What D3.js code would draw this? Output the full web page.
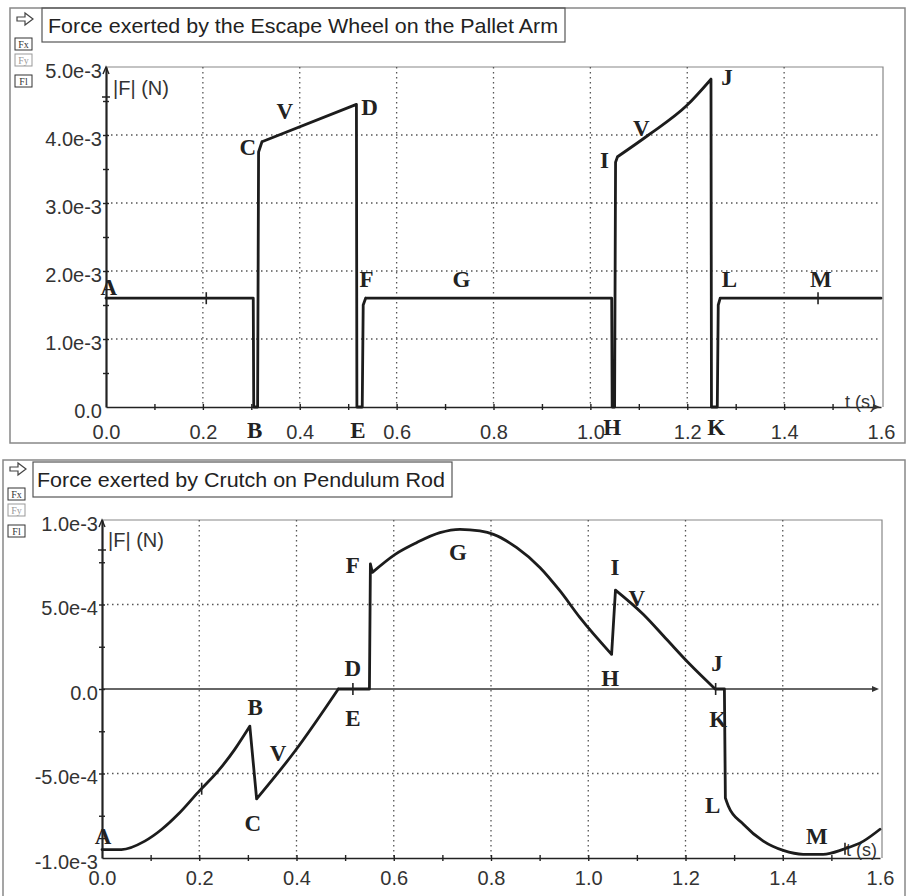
<!DOCTYPE html>
<html>
<head>
<meta charset="utf-8">
<script src="https://cdn.jsdelivr.net/npm/d3@7/dist/d3.min.js"></script>
<style>
  body { margin: 0; background: #fff; }
  .title { font-family: 'Liberation Sans', Arial, sans-serif; font-size: 21px; fill: #222; }
  .tick-label { font-family: 'Liberation Sans', Arial, sans-serif; font-size: 20px; fill: #333; }
  .axis-name { font-family: 'Liberation Sans', Arial, sans-serif; font-size: 20px; fill: #333; }
  .pt-label { font-family: 'Liberation Serif', 'Times New Roman', serif; font-weight: bold; font-size: 23px; fill: #222; }
  .icon-text { font-family: 'Liberation Serif', serif; font-size: 10px; fill: #333; }
</style>
</head>
<body>
<svg id="chart" width="911" height="896"></svg>
<script>
// shared time axis
const xTicks = [0, 0.2, 0.4, 0.6, 0.8, 1.0, 1.2, 1.4, 1.6];
const xTickLabels = ['0.0', '0.2', '0.4', '0.6', '0.8', '1.0', '1.2', '1.4', '1.6'];
const xMinorTicks = [0.1, 0.2, 0.3, 0.4, 0.5, 0.6, 0.7, 0.8, 0.9, 1.0, 1.1, 1.2, 1.3, 1.4, 1.5];

// escape wheel on pallet arm
const wheelTitle = 'Force exerted by the Escape Wheel on the Pallet Arm';
const wheelTimes = [0, 0.304, 0.305, 0.313, 0.315, 0.322, 0.517, 0.518, 0.529, 0.531, 0.536,
  1.044, 1.045, 1.05, 1.052, 1.056, 1.12, 1.2, 1.249, 1.25, 1.262, 1.264, 1.268, 1.6];
const wheelForces = [1.6e-3, 1.6e-3, 0, 0, 3.75e-3, 3.9e-3, 4.45e-3, 0, 0, 1.5e-3, 1.6e-3,
  1.6e-3, 0, 0, 3.6e-3, 3.68e-3, 4.0e-3, 4.44e-3, 4.82e-3, 0, 0, 1.5e-3, 1.6e-3, 1.6e-3];
// times where the trace has a sharp corner (not smoothed through)
const wheelCorners = [0.304, 0.305, 0.313, 0.315, 0.322, 0.517, 0.518, 0.529, 0.531, 0.536,
  1.044, 1.045, 1.05, 1.052, 1.056, 1.249, 1.25, 1.262, 1.264, 1.268];
const wheelYTicks = [0, 1e-3, 2e-3, 3e-3, 4e-3, 5e-3];
const wheelYTickLabels = ['0.0', '1.0e-3', '2.0e-3', '3.0e-3', '4.0e-3', '5.0e-3'];
const wheelYMinor = [0.5e-3, 1e-3, 1.5e-3, 2e-3, 2.5e-3, 3e-3, 3.5e-3, 4e-3, 4.5e-3];
const wheelLabels = [
  ['A', 0.006, 1.76e-3], ['B', 0.307, -0.34e-3], ['C', 0.293, 3.82e-3], ['V', 0.369, 4.34e-3],
  ['D', 0.544, 4.41e-3], ['E', 0.52, -0.34e-3], ['F', 0.538, 1.87e-3], ['G', 0.734, 1.87e-3],
  ['H', 1.045, -0.3e-3], ['I', 1.029, 3.63e-3], ['V', 1.105, 4.1e-3], ['J', 1.282, 4.84e-3],
  ['K', 1.26, -0.3e-3], ['L', 1.287, 1.87e-3], ['M', 1.476, 1.87e-3]
];
const wheelMarks = [[0.207, 1.6e-3], [1.47, 1.6e-3]];

// crutch on pendulum rod
const crutchTitle = 'Force exerted by Crutch on Pendulum Rod';
const crutchTimes = [0, 0.04, 0.088, 0.123, 0.157, 0.198, 0.239, 0.273, 0.304, 0.318, 0.397,
  0.486, 0.55, 0.552, 0.556, 0.603, 0.647, 0.695, 0.736, 0.777, 0.805, 0.853, 0.901, 0.942,
  0.983, 1.048, 1.056, 1.113, 1.161, 1.209, 1.261, 1.28, 1.282, 1.288, 1.319, 1.36, 1.401,
  1.442, 1.483, 1.524, 1.566, 1.6];
const crutchForces = [-9.5e-4, -9.5e-4, -9.0e-4, -8.3e-4, -7.4e-4, -6.1e-4, -4.85e-4, -3.57e-4,
  -2.2e-4, -6.5e-4, -3.67e-4, 0, 0, 7.4e-4, 6.9e-4, 7.97e-4, 8.66e-4, 9.25e-4, 9.45e-4, 9.35e-4,
  9.15e-4, 8.36e-4, 7.18e-4, 5.8e-4, 4.22e-4, 2.05e-4, 5.85e-4, 4.42e-4, 2.94e-4, 1.46e-4, 0, 0,
  -6.45e-4, -6.92e-4, -8.0e-4, -9.0e-4, -9.55e-4, -9.78e-4, -9.78e-4, -9.49e-4, -9.0e-4, -8.3e-4];
const crutchCorners = [0.304, 0.318, 0.486, 0.55, 0.552, 0.556, 1.048, 1.056, 1.261, 1.28, 1.282];
const crutchYTicks = [-1e-3, -5e-4, 0, 5e-4, 1e-3];
const crutchYTickLabels = ['-1.0e-3', '-5.0e-4', '0.0', '5.0e-4', '1.0e-3'];
const crutchYMinor = [-7.5e-4, -5e-4, -2.5e-4, 0, 2.5e-4, 5e-4, 7.5e-4];
const crutchLabels = [
  ['A', 0.002, -8.7e-4], ['B', 0.315, -1.12e-4], ['C', 0.31, -7.93e-4], ['V', 0.362, -3.79e-4],
  ['D', 0.516, 1.24e-4], ['E', 0.516, -1.72e-4], ['F', 0.516, 7.28e-4], ['G', 0.732, 8.05e-4],
  ['H', 1.045, 0.65e-4], ['I', 1.055, 7.16e-4], ['V', 1.1, 5.38e-4], ['J', 1.265, 1.48e-4],
  ['K', 1.267, -1.78e-4], ['L', 1.256, -6.92e-4], ['M', 1.47, -8.7e-4]
];
const crutchMarks = [[0.205, -5.9e-4], [0.516, 0], [1.262, 0], [1.528, -9.45e-4]];

const panels = [
  {
    title: wheelTitle, times: wheelTimes, forces: wheelForces, corners: wheelCorners,
    labels: wheelLabels, marks: wheelMarks,
    yTicks: wheelYTicks, yTickLabels: wheelYTickLabels, yMinor: wheelYMinor,
    yDomain: [0, 5e-3], xRange: [106, 881], yRange: [407, 67],
    frame: [10, 8, 895, 435], titleBox: [42, 8, 523, 34], titleX: 48, titleW: 510, icon: [17, 13],
    xLabelY: 440, unit: [845, 402], nameAt: [113, 88]
  },
  {
    title: crutchTitle, times: crutchTimes, forces: crutchForces, corners: crutchCorners,
    labels: crutchLabels, marks: crutchMarks,
    yTicks: crutchYTicks, yTickLabels: crutchYTickLabels, yMinor: crutchYMinor,
    yDomain: [-1e-3, 1e-3], xRange: [102, 880], yRange: [858, 520],
    frame: [3, 460, 902, 440], titleBox: [33, 462, 419, 35], titleX: 37, titleW: 408, icon: [10, 463],
    xLabelY: 886, unit: [846, 850], nameAt: [108, 540]
  }
];

const svg = d3.select('#chart');

function drawIcons(g, ix, iy) {
  g.append('path')
    .attr('d', `M${ix},${iy + 4}h8v-4l8,6l-8,6v-4h-8z`)
    .attr('fill', 'none').attr('stroke', '#444').attr('stroke-width', 1.2);
  [['Fx', 25, '#333'], ['Fy', 41, '#999'], ['Fl', 62, '#333']].forEach(([name, dy, color]) => {
    g.append('rect').attr('x', ix - 2).attr('y', iy + dy).attr('width', 17).attr('height', 12)
      .attr('fill', 'none').attr('stroke', color).attr('stroke-width', 1);
    g.append('text').attr('class', 'icon-text').attr('x', ix + 6.5).attr('y', iy + dy + 10)
      .attr('text-anchor', 'middle').style('fill', color).text(name);
  });
}

// split the trace at its corners so each smooth run is interpolated on its own
function splitAtCorners(pts, corners) {
  const runs = [];
  let cur = [pts[0]];
  for (let i = 1; i < pts.length; i++) {
    cur.push(pts[i]);
    if (corners.includes(pts[i][0])) {
      runs.push(cur);
      cur = [pts[i]];
    }
  }
  if (cur.length > 1) runs.push(cur);
  return runs;
}

function drawPanel(p) {
  const g = svg.append('g');
  const x = d3.scaleLinear().domain([0, 1.6]).range(p.xRange);
  const y = d3.scaleLinear().domain(p.yDomain).range(p.yRange);
  const [x0, x1] = p.xRange;
  const [yb, yt] = p.yRange;

  // outer frame + title
  g.append('rect').attr('x', p.frame[0]).attr('y', p.frame[1])
    .attr('width', p.frame[2]).attr('height', p.frame[3])
    .attr('fill', 'none').attr('stroke', '#888').attr('stroke-width', 1.5);
  g.append('rect').attr('x', p.titleBox[0]).attr('y', p.titleBox[1])
    .attr('width', p.titleBox[2]).attr('height', p.titleBox[3])
    .attr('fill', 'none').attr('stroke', '#555').attr('stroke-width', 1.2);
  g.append('text').attr('class', 'title')
    .attr('x', p.titleX).attr('y', p.titleBox[1] + p.titleBox[3] / 2)
    .attr('dominant-baseline', 'central')
    .attr('textLength', p.titleW).attr('lengthAdjust', 'spacingAndGlyphs')
    .text(p.title);
  drawIcons(g, p.icon[0], p.icon[1]);

  // plot frame (top and right)
  g.append('path').attr('d', `M${x0},${yt}H${x1 + 2}V${yb}`)
    .attr('fill', 'none').attr('stroke', '#888').attr('stroke-width', 1.2);

  // dotted grid
  const grid = g.append('g').attr('stroke', '#555').attr('stroke-width', 1.3)
    .attr('stroke-dasharray', '1.5,3.5');
  xTicks.slice(1, -1).forEach((t) => {
    grid.append('line').attr('x1', x(t)).attr('x2', x(t)).attr('y1', yt).attr('y2', yb);
  });
  p.yTicks.filter((v) => v !== 0 && v !== p.yDomain[0] && v !== p.yDomain[1]).forEach((v) => {
    grid.append('line').attr('x1', x0).attr('x2', x1).attr('y1', y(v)).attr('y2', y(v));
  });

  // bottom axis with crossing ticks
  const bottom = g.append('g').attr('transform', `translate(0,${yb})`)
    .call(d3.axisBottom(x).tickValues(xMinorTicks).tickSize(0).tickFormat(''));
  bottom.select('.domain').attr('stroke', '#222').attr('stroke-width', 1.6);
  bottom.selectAll('.tick line').attr('y1', -3).attr('y2', 3).attr('stroke', '#222').attr('stroke-width', 1.4);

  // zero line with arrow
  if (p.yDomain[0] < 0) {
    g.append('line').attr('x1', x0).attr('x2', x1 - 4).attr('y1', y(0)).attr('y2', y(0))
      .attr('stroke', '#333').attr('stroke-width', 1.4);
  }
  g.append('path')
    .attr('d', `M${x1 - 8},${y(0) - 3}L${x1 - 1},${y(0)}L${x1 - 8},${y(0) + 3}z`)
    .attr('fill', '#333');

  // left axis with crossing ticks + arrow
  const left = g.append('g').attr('transform', `translate(${x0},0)`)
    .call(d3.axisLeft(y).tickValues(p.yMinor).tickSize(0).tickFormat(''));
  left.select('.domain').attr('stroke', '#222').attr('stroke-width', 2.2);
  left.selectAll('.tick line').attr('x1', -3).attr('x2', 3).attr('stroke', '#222').attr('stroke-width', 1.4);
  g.append('path')
    .attr('d', `M${x0 - 3},${yt + 7}L${x0},${yt}L${x0 + 3},${yt + 7}M${x0 - 4},${yt + 30}H${x0 + 4}`)
    .attr('fill', 'none').attr('stroke', '#222').attr('stroke-width', 1.4);

  // tick labels
  const xLab = g.append('g').attr('transform', `translate(0,${p.xLabelY})`)
    .call(d3.axisBottom(x).tickValues(xTicks).tickSize(0).tickPadding(0)
      .tickFormat((d, i) => xTickLabels[i]));
  xLab.select('.domain').remove();
  xLab.selectAll('text').attr('class', 'tick-label').attr('dy', '-0.05em').attr('fill', null);
  const yLab = g.append('g').attr('transform', `translate(${x0 - 4},0)`)
    .call(d3.axisLeft(y).tickValues(p.yTicks).tickSize(0).tickPadding(0)
      .tickFormat((d, i) => p.yTickLabels[i]));
  yLab.select('.domain').remove();
  yLab.selectAll('text').attr('class', 'tick-label').attr('dy', '0.5em').attr('fill', null);

  // axis names
  g.append('text').attr('class', 'axis-name').attr('x', p.nameAt[0]).attr('y', p.nameAt[1])
    .attr('dominant-baseline', 'central').text('|F| (N)');
  g.append('text').attr('class', 'axis-name').attr('x', p.unit[0]).attr('y', p.unit[1])
    .attr('dominant-baseline', 'central').style('font-size', '18px').text('t (s)');

  // series
  const pts = p.times.map((t, i) => [t, p.forces[i]]);
  const line = d3.line().x((d) => x(d[0])).y((d) => y(d[1])).curve(d3.curveMonotoneX);
  g.append('path')
    .attr('d', splitAtCorners(pts, p.corners).map((run) => line(run)).join(''))
    .attr('fill', 'none').attr('stroke', '#1c1c1c').attr('stroke-width', 2.8)
    .attr('stroke-linejoin', 'round').attr('stroke-linecap', 'round');

  // small position marks on the trace
  g.selectAll('.mark').data(p.marks).enter().append('line')
    .attr('x1', (d) => x(d[0])).attr('x2', (d) => x(d[0]))
    .attr('y1', (d) => y(d[1]) - 6).attr('y2', (d) => y(d[1]) + 6)
    .attr('stroke', '#222').attr('stroke-width', 1.6);

  // point labels
  g.selectAll('.pt-label').data(p.labels).enter().append('text')
    .attr('class', 'pt-label')
    .attr('x', (d) => x(d[1])).attr('y', (d) => y(d[2]))
    .attr('text-anchor', 'middle').attr('dominant-baseline', 'central')
    .text((d) => d[0]);
}

panels.forEach(drawPanel);
</script>
</body>
</html>
